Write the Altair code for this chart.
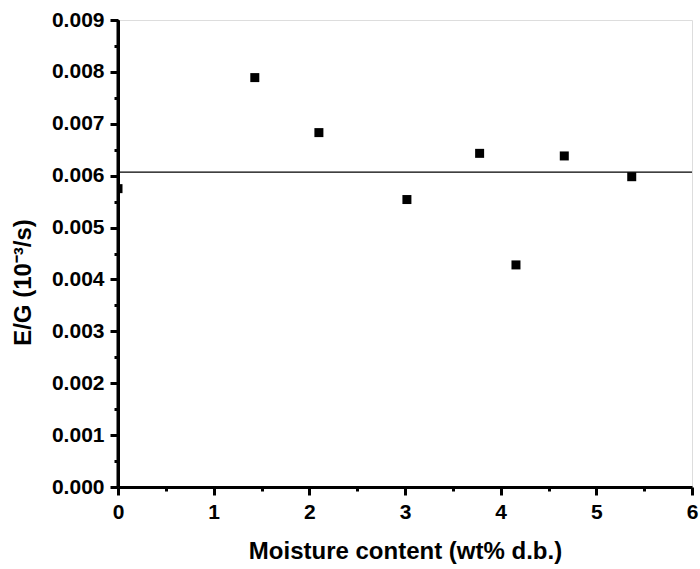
import altair as alt
import pandas as pd

moisture = [0.0, 1.43, 2.10, 3.02, 3.78, 4.16, 4.665, 5.37]
eg_ratio = [0.00575, 0.00789, 0.00683, 0.00554, 0.00643, 0.00428, 0.00638, 0.00598]
mean_line = 0.00607

x_major = [0, 1, 2, 3, 4, 5, 6]
x_minor = [0.5, 1.5, 2.5, 3.5, 4.5, 5.5]
y_major = [0.000, 0.001, 0.002, 0.003, 0.004, 0.005, 0.006, 0.007, 0.008, 0.009]
y_minor = [0.0005, 0.0015, 0.0025, 0.0035, 0.0045, 0.0055, 0.0065, 0.0075, 0.0085]

df = pd.DataFrame({"x": moisture, "y": eg_ratio})

FONT = "Liberation Sans"
xscale = alt.Scale(domain=[0, 6], nice=False, zero=False)
yscale = alt.Scale(domain=[0, 0.009], nice=False)

x_axis = alt.Axis(values=x_major, format="d", orient="bottom", grid=False,
                  tickSize=8, tickWidth=3, domainWidth=3, domainColor="black",
                  tickColor="black", labelFont=FONT, labelFontSize=21,
                  labelFontWeight="bold", labelColor="black", labelPadding=6,
                  labelFlush=False,
                  title="Moisture content (wt% d.b.)", titleFont=FONT,
                  titleFontSize=24, titleFontWeight="bold", titleColor="black",
                  titlePadding=17)
y_axis = alt.Axis(values=y_major, format=".3f", orient="left", grid=False,
                  tickSize=8, tickWidth=3, domainWidth=3, domainColor="black",
                  tickColor="black", labelFont=FONT, labelFontSize=21,
                  labelFontWeight="bold", labelColor="black", labelPadding=6,
                  labelFlush=False,
                  title="E/G (10⁻³/s)", titleFont=FONT,
                  titleFontSize=24, titleFontWeight="bold", titleColor="black",
                  titleX=-88, titleY=262, titleAngle=270, titleAlign="center",
                  titleBaseline="alphabetic")

x_minor_axis = alt.Axis(values=x_minor, orient="bottom", grid=False, labels=False,
                        domain=False, tickSize=4, tickWidth=3, tickColor="black",
                        title=None)
y_minor_axis = alt.Axis(values=y_minor, orient="left", grid=False, labels=False,
                        domain=False, tickSize=4, tickWidth=3, tickColor="black",
                        title=None)

points = alt.Chart(df).mark_square(size=81, color="black", opacity=1, clip=True).encode(
    x=alt.X("x:Q", scale=xscale, axis=x_axis),
    y=alt.Y("y:Q", scale=yscale, axis=y_axis),
)

minor = alt.Chart(df).mark_point(opacity=0).encode(
    x=alt.X("x:Q", scale=xscale, axis=x_minor_axis),
    y=alt.Y("y:Q", scale=yscale, axis=y_minor_axis),
)

hline = alt.Chart(pd.DataFrame({"v": [mean_line]})).mark_rule(
    color="black", strokeWidth=1.3
).encode(y=alt.Y("v:Q", scale=yscale, axis=None))

yline = alt.Chart(pd.DataFrame({"v": [0]})).mark_rule(
    color="black", strokeWidth=3
).encode(x=alt.X("v:Q", scale=xscale, axis=None))

chart = alt.layer(hline, points, yline, minor).resolve_axis(
    x="independent", y="independent"
).properties(
    width=574, height=467,
    autosize=alt.AutoSizeParams(type="none"),
    padding={"left": 118, "top": 20, "right": 8, "bottom": 82},
).configure_view(stroke=None).configure_axis(
    domainColor="black", tickColor="black", domainWidth=3, tickWidth=3
).configure(background="white")

chart.save("out.html", embed_options={"renderer": "svg", "actions": False})
